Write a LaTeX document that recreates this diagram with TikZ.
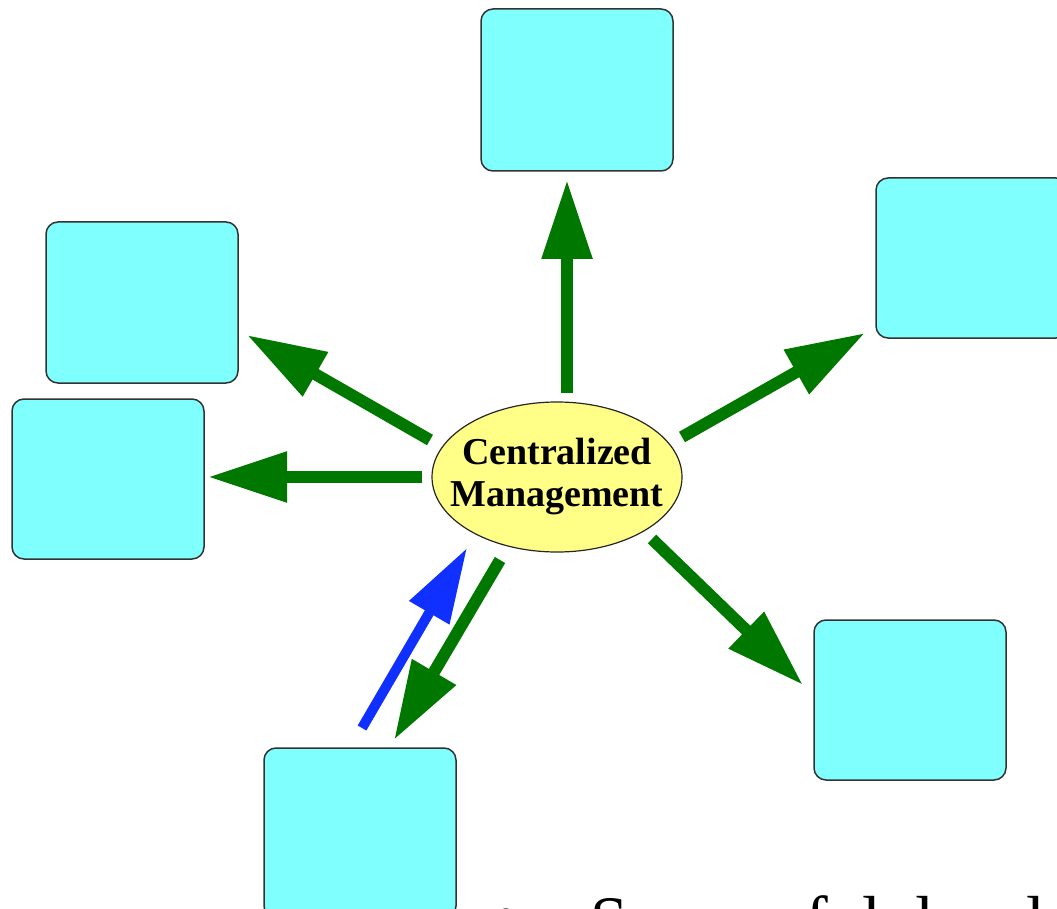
\documentclass[tikz,border=0pt]{standalone}
\usepackage{fontspec}
\setmainfont{Liberation Serif}
\usetikzlibrary{arrows.meta,shapes.geometric}
\definecolor{boxcyan}{RGB}{128,255,255}
\definecolor{ellyellow}{RGB}{255,255,136}
\definecolor{arrgreen}{RGB}{0,120,0}
\definecolor{arrblue}{RGB}{16,48,255}
\definecolor{edgegray}{RGB}{50,50,50}
\begin{document}
\begin{tikzpicture}[x=1pt,y=-1pt,
  bx/.style={draw=edgegray, line width=1.5pt, fill=boxcyan, rounded corners=12pt,
    minimum width=192pt, inner sep=0pt, outer sep=0pt, anchor=north west},
  garrow/.style={draw=arrgreen, line width=12pt, -{Triangle[length=79pt,width=48pt]}},
  barrow/.style={draw=arrblue, line width=10pt, -{Triangle[length=75pt,width=44pt]}},
  centre/.style={ellipse, draw=black!85, line width=1.2pt, fill=ellyellow,
    minimum width=250pt, minimum height=150pt, inner sep=0pt},
  centretext/.style={align=center, inner sep=0pt,
    font=\fontsize{38}{42}\selectfont\bfseries},
  bigtext/.style={anchor=base west, inner sep=0pt, font=\fontsize{68}{80}\selectfont}
]
\useasboundingbox (0,0) rectangle (1057,909);
\clip (0,0) rectangle (1057,909);

% boxes
\node[bx, minimum height=162pt] (btop) at (481,9) {};
\node[bx, minimum height=161pt] (blt) at (46,222) {};
\node[bx, minimum height=160pt] (bl) at (12,399) {};
\node[bx, minimum height=160pt] (brt) at (876,178) {};
\node[bx, minimum height=160pt] (brb) at (814,620) {};
\node[bx, minimum height=170pt] (bbot) at (264,748) {};

% central ellipse
\node[centre] (cm) at (557,477) {};
\node[centretext] (cmt) at (cm.center) {Centralized\\Management};

% arrow end points
\coordinate (a1s) at (567,393); \coordinate (a1e) at (567,180);
\coordinate (a2s) at (682,437); \coordinate (a2e) at (865,333);
\coordinate (a3s) at (430,440); \coordinate (a3e) at (247,335);
\coordinate (a4s) at (422,477); \coordinate (a4e) at (208,477);
\coordinate (a5s) at (652,539); \coordinate (a5e) at (803,685);
\coordinate (a6s) at (500,560); \coordinate (a6e) at (394,740);
\coordinate (a7s) at (362,728); \coordinate (a7e) at (467,548);

\draw[garrow] (a1s) -- (a1e);
\draw[garrow] (a2s) -- (a2e);
\draw[garrow] (a3s) -- (a3e);
\draw[garrow] (a4s) -- (a4e);
\draw[garrow] (a5s) -- (a5e);
\draw[garrow] (a6s) -- (a6e);
\draw[barrow] (a7s) -- (a7e);

% bottom text (cut off by the lower edge, as in the reference)
\node[bigtext] (bullet) at (494,939) {•};
\node[bigtext] (btext) at (590,943) {Successful devel};
\end{tikzpicture}
\end{document}
